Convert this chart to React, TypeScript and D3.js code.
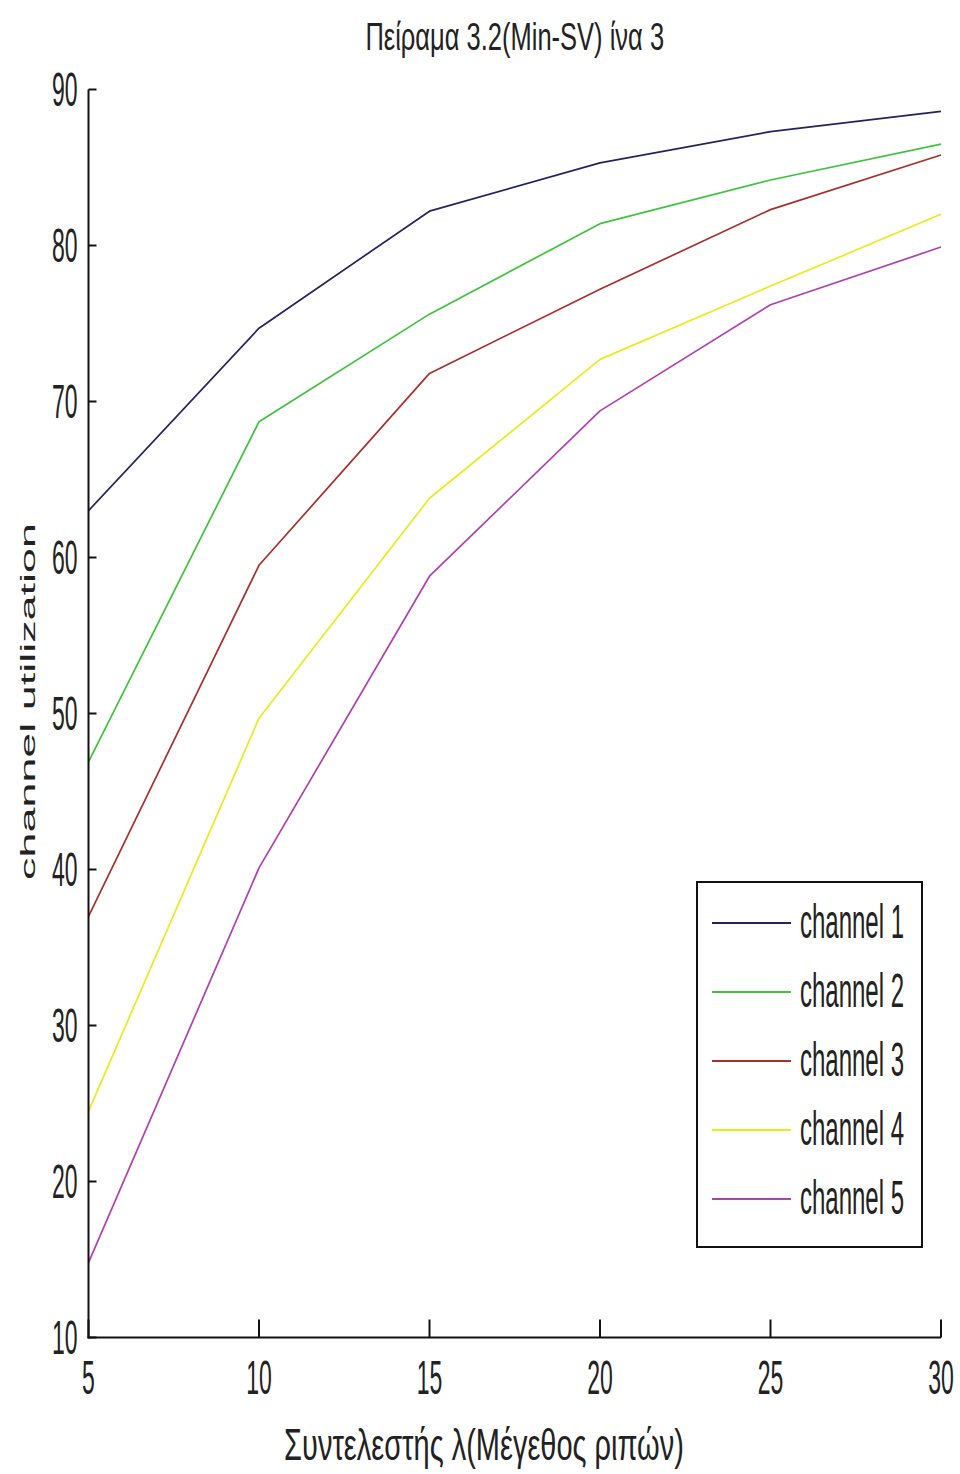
import React from "react";
import * as d3 from "d3";

// Coefficient λ (burst size) on the x axis
const X_VALUES = [5, 10, 15, 20, 25, 30];

// Channel utilization per channel
const CHANNEL_1 = [63.0, 74.7, 82.2, 85.3, 87.3, 88.6];
const CHANNEL_2 = [46.9, 68.7, 75.6, 81.4, 84.2, 86.5];
const CHANNEL_3 = [37.0, 59.5, 71.8, 77.2, 82.3, 85.8];
const CHANNEL_4 = [24.5, 49.7, 63.8, 72.7, 77.4, 82.0];
const CHANNEL_5 = [14.8, 40.1, 58.8, 69.4, 76.2, 79.9];

const SERIES_NAMES = ["channel 1", "channel 2", "channel 3", "channel 4", "channel 5"];
const SERIES_VALUES = [CHANNEL_1, CHANNEL_2, CHANNEL_3, CHANNEL_4, CHANNEL_5];
const SERIES_COLORS = ["#23235e", "#3fc23f", "#a8302c", "#eaea1c", "#b040b0"];

const X_TICKS = [5, 10, 15, 20, 25, 30];
const Y_TICKS = [10, 20, 30, 40, 50, 60, 70, 80, 90];

const TITLE = "Πείραμα 3.2(Min-SV) ίνα 3";
const X_LABEL = "Συντελεστής λ(Μέγεθος ριπών)";
const Y_LABEL = "channel utilization";

const W = 960;
const H = 1474;
const FONT = "'Liberation Sans', Arial, sans-serif";
const INK = "#222";

const LEFT = 88.5;
const RIGHT = 941;
const TOP = 89.5;
const BOTTOM = 1337.5;

// Text that is stretched vertically around its baseline
function TallText(props: {
  x: number;
  y: number;
  k: number;
  size: number;
  anchor?: string;
  children: React.ReactNode;
}) {
  const { x, y, k, size, anchor = "start", children } = props;
  return (
    <text
      transform={`translate(${x},${y}) scale(1,${k})`}
      fontFamily={FONT}
      fontSize={size}
      textAnchor={anchor}
      fill={INK}
    >
      {children}
    </text>
  );
}

export default function App() {
  const x = d3.scaleLinear().domain([5, 30]).range([LEFT, RIGHT]);
  const y = d3.scaleLinear().domain([10, 90]).range([BOTTOM, TOP]);

  const line = d3
    .line<number>()
    .x((_, i) => x(X_VALUES[i]))
    .y((d) => y(d));

  // legend box
  const lgLeft = 697;
  const lgTop = 882;
  const lgW = 225;
  const lgH = 365;
  const rowStep = 69;
  const firstRow = lgTop + 41;

  return (
    <svg
      width={W}
      height={H}
      viewBox={`0 0 ${W} ${H}`}
      style={{ position: "absolute", left: 0, top: 0, display: "block", background: "#fff" }}
    >
      <rect x={0} y={0} width={W} height={H} fill="#fff" />

      {/* title */}
      <TallText x={(LEFT + RIGHT) / 2} y={50} k={1.55} size={25.5} anchor="middle">
        {TITLE}
      </TallText>

      {/* data lines */}
      {SERIES_VALUES.map((vals, i) => (
        <path
          key={SERIES_NAMES[i]}
          d={line(vals) || ""}
          fill="none"
          stroke={SERIES_COLORS[i]}
          strokeWidth={1.7}
          strokeLinejoin="round"
        />
      ))}

      {/* axes */}
      <g stroke="#111" strokeWidth={2} fill="none">
        <line x1={LEFT} y1={TOP} x2={LEFT} y2={BOTTOM + 1} />
        <line x1={LEFT - 1} y1={BOTTOM} x2={RIGHT} y2={BOTTOM} />
        {Y_TICKS.map((t) => (
          <line key={`yt${t}`} x1={LEFT} x2={LEFT + 8} y1={y(t)} y2={y(t)} />
        ))}
        {X_TICKS.map((t) => (
          <line key={`xt${t}`} x1={x(t)} x2={x(t)} y1={BOTTOM} y2={BOTTOM - 18} />
        ))}
      </g>

      {/* y tick labels */}
      {Y_TICKS.map((t) => (
        <TallText key={`yl${t}`} x={LEFT - 11} y={y(t) + 16} k={2.1} size={23} anchor="end">
          {t}
        </TallText>
      ))}

      {/* x tick labels */}
      {X_TICKS.map((t) => (
        <TallText key={`xl${t}`} x={x(t)} y={1394} k={2.1} size={23} anchor="middle">
          {t}
        </TallText>
      ))}

      {/* x axis label */}
      <TallText x={484} y={1460} k={1.5} size={29} anchor="middle">
        {X_LABEL}
      </TallText>

      {/* y axis label */}
      <text
        transform={`translate(35,${(523 + 880) / 2}) rotate(-90)`}
        fontFamily={FONT}
        fontSize={20}
        textAnchor="middle"
        textLength={357}
        lengthAdjust="spacingAndGlyphs"
        fill={INK}
      >
        {Y_LABEL}
      </text>

      {/* legend */}
      <rect x={lgLeft} y={lgTop} width={lgW} height={lgH} fill="#fff" stroke="#111" strokeWidth={2} />
      {SERIES_NAMES.map((name, i) => {
        const ry = firstRow + i * rowStep;
        return (
          <g key={`lg${name}`}>
            <line x1={712} x2={791} y1={ry} y2={ry} stroke={SERIES_COLORS[i]} strokeWidth={2} />
            <TallText x={800} y={ry + 15} k={2.0} size={24}>
              {name}
            </TallText>
          </g>
        );
      })}
    </svg>
  );
}
